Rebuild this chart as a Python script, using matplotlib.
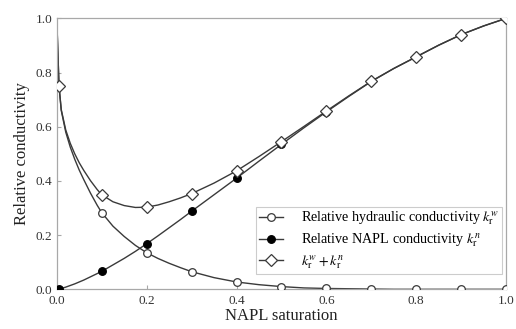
import matplotlib
matplotlib.use("Agg")
import matplotlib.pyplot as plt
import numpy as np

plt.rcParams["font.family"] = ["Liberation Serif", "DejaVu Serif"]
plt.rcParams["mathtext.fontset"] = "stix"

# Smooth curves (NAPL saturation vs relative conductivity)
curve_sat = [0.0, 0.005, 0.01, 0.02, 0.03, 0.04, 0.05, 0.06, 0.075, 0.09,
             0.1, 0.125, 0.15, 0.175, 0.2, 0.225, 0.25, 0.275, 0.3, 0.35,
             0.4, 0.45, 0.5, 0.55, 0.6, 0.65, 0.7, 0.75, 0.8, 0.85, 0.9,
             0.95, 1.0]
curve_kw = [1.0, 0.75, 0.66, 0.58, 0.525, 0.48, 0.44, 0.405, 0.355, 0.31,
            0.283, 0.233, 0.195, 0.162, 0.135, 0.114, 0.096, 0.08, 0.065,
            0.043, 0.027, 0.017, 0.010, 0.005, 0.003, 0.002, 0.001, 0.0,
            0.0, 0.0, 0.0, 0.0, 0.0]
curve_kn = [0.0, 0.0, 0.003, 0.008, 0.014, 0.02, 0.027, 0.034, 0.046, 0.058,
            0.066, 0.09, 0.114, 0.14, 0.168, 0.197, 0.227, 0.257, 0.288,
            0.349, 0.41, 0.473, 0.535, 0.596, 0.655, 0.712, 0.767, 0.815,
            0.858, 0.901, 0.94, 0.972, 1.0]

# Marked points
mark_sat = [0.005, 0.1, 0.2, 0.3, 0.4, 0.5, 0.6, 0.7, 0.8, 0.9, 1.0]
mark_kw = [0.75, 0.283, 0.135, 0.065, 0.027, 0.010, 0.003, 0.001, 0.0, 0.0, 0.0]
mark_kn = [0.0, 0.066, 0.168, 0.288, 0.41, 0.535, 0.655, 0.767, 0.858, 0.94, 1.0]

curve_sum = np.add(curve_kw, curve_kn)
mark_sum = np.add(mark_kw, mark_kn)

line_c = "#3a3a3a"
frame_c = "#a8a8a8"

fig = plt.figure(figsize=(5.16, 3.29), dpi=100)
ax = fig.add_axes([0.11, 0.1207, 0.871, 0.8236])

lw = 1.0
ax.plot(curve_sat, curve_kw, color=line_c, lw=lw, zorder=2)
ax.plot(curve_sat, curve_kn, color=line_c, lw=lw, zorder=2)
ax.plot(curve_sat, curve_sum, color=line_c, lw=lw, zorder=2)

ax.plot(mark_sat, mark_kw, ls="none", marker="o", ms=5.5, mfc="white",
        mec=line_c, mew=0.9, zorder=3)
ax.plot(mark_sat, mark_kn, ls="none", marker="o", ms=5.5, mfc="black",
        mec="black", mew=0.9, zorder=3)
ax.plot(mark_sat, mark_sum, ls="none", marker="D", ms=6, mfc="white",
        mec=line_c, mew=0.9, zorder=4)

# Legend proxies: line with marker
h1, = ax.plot([], [], color=line_c, lw=lw, marker="o", ms=5.5, mfc="white",
              mec=line_c, mew=0.9)
h2, = ax.plot([], [], color=line_c, lw=lw, marker="o", ms=5.5, mfc="black",
              mec="black", mew=0.9)
h3, = ax.plot([], [], color=line_c, lw=lw, marker="D", ms=6, mfc="white",
              mec=line_c, mew=0.9)
leg = ax.legend([h1, h2, h3],
                [r"Relative hydraulic conductivity $k_\mathrm{r}^{w}$",
                 r"Relative NAPL conductivity $k_\mathrm{r}^{n}$",
                 r"$k_\mathrm{r}^{w}+k_\mathrm{r}^{n}$"],
                loc="lower right", bbox_to_anchor=(0.991, 0.057),
                fontsize=10.2, handlelength=1.7, labelspacing=0.3,
                borderpad=0.2, borderaxespad=0.0, handletextpad=1.3,
                fancybox=False, framealpha=1.0, edgecolor="#cccccc")
leg.get_frame().set_linewidth(0.8)

ax.set_xlim(0, 1.0)
ax.set_ylim(0, 1.0)
ax.set_xticks([0.0, 0.2, 0.4, 0.6, 0.8, 1.0])
ax.set_yticks([0.0, 0.2, 0.4, 0.6, 0.8, 1.0])
ax.xaxis.set_major_formatter(matplotlib.ticker.FormatStrFormatter("%.1f"))
ax.yaxis.set_major_formatter(matplotlib.ticker.FormatStrFormatter("%.1f"))
ax.tick_params(direction="in", length=3, width=0.8, color=frame_c,
               labelsize=9.5, labelcolor="#333333")
ax.tick_params(axis="x", pad=4)
ax.tick_params(axis="y", pad=3)
for s in ax.spines.values():
    s.set_color(frame_c)
    s.set_linewidth(0.9)

ax.set_xlabel("NAPL saturation", fontsize=12, color="#222222", labelpad=1)
ax.set_ylabel("Relative conductivity", fontsize=12, color="#222222", labelpad=4)

fig.savefig("out.png", dpi=100)
